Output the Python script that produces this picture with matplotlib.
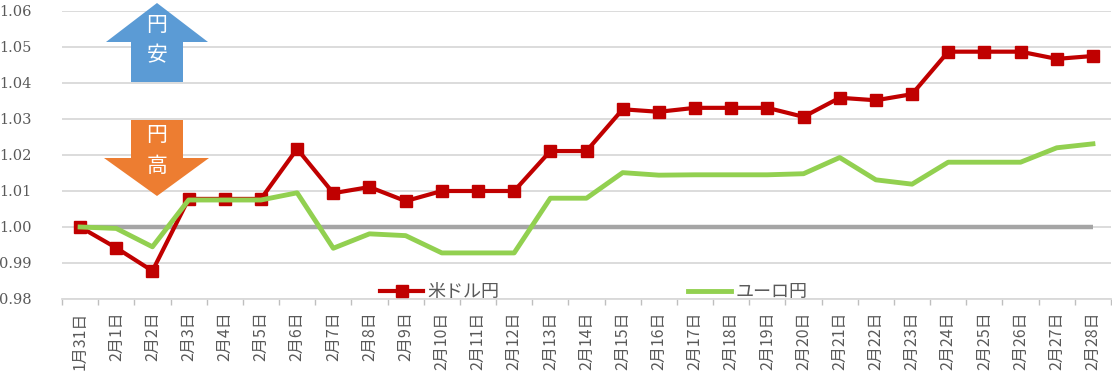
import matplotlib
matplotlib.use("Agg")
import matplotlib.pyplot as plt
import numpy as np
from matplotlib.patches import Polygon
from matplotlib.lines import Line2D

# ---- data ----
dates = ["1月31日"] + [f"2月{d}日" for d in range(1, 29)]
usd_jpy = [1.0000, 0.9942, 0.9878, 1.0078, 1.0078, 1.0078, 1.0217, 1.0094, 1.0111, 1.0072,
           1.0100, 1.0100, 1.0100, 1.0211, 1.0211, 1.0327, 1.0320, 1.0331, 1.0331, 1.0331,
           1.0306, 1.0359, 1.0352, 1.0369, 1.0487, 1.0487, 1.0487, 1.0467, 1.0475]
eur_jpy = [1.0000, 0.9996, 0.9945, 1.0075, 1.0075, 1.0075, 1.0095, 0.9941, 0.9981, 0.9976,
           0.9928, 0.9928, 0.9928, 1.0080, 1.0080, 1.0151, 1.0144, 1.0145, 1.0145, 1.0145,
           1.0148, 1.0193, 1.0131, 1.0119, 1.0180, 1.0180, 1.0180, 1.0220, 1.0231]
BASE = 1.00
series_names = ["米ドル円", "ユーロ円"]
y_ticks = [0.98, 0.99, 1.00, 1.01, 1.02, 1.03, 1.04, 1.05, 1.06]

plt.rcParams["font.family"] = ["DejaVu Serif"]

W, H = 1112, 386
fig = plt.figure(figsize=(W / 100, H / 100), dpi=100)
ax = fig.add_axes([62 / W, 1 - 299 / H, (1111 - 62) / W, (299 - 11) / H])

x = np.arange(len(dates))
TXT = "#595959"
GRID = "#D9D9D9"
JP = ["Noto Sans CJK JP", "DejaVu Sans"]

ax.set_xlim(-0.5, len(dates) - 0.5)
ax.set_ylim(y_ticks[0], y_ticks[-1])
ax.set_yticks(y_ticks)
ax.set_yticklabels([f"{v:.2f}" for v in y_ticks])
ax.tick_params(axis="y", length=0, pad=22, labelsize=10.5, labelcolor=TXT)
for t in ax.get_yticklabels():
    t.set_fontfamily("DejaVu Serif")
ax.yaxis.grid(True, color=GRID, lw=1.3)
ax.set_axisbelow(True)

ax.set_xticks(x)
ax.set_xticklabels(dates, rotation=90)
for t in ax.get_xticklabels():
    t.set_fontfamily(JP)
ax.tick_params(axis="x", which="major", length=0, pad=9, labelsize=11.5, labelcolor=TXT)
ax.set_xticks(np.arange(len(dates) + 1) - 0.5, minor=True)
ax.tick_params(axis="x", which="minor", length=4, color="#BFBFBF", width=1)

for s in ["left", "right", "top"]:
    ax.spines[s].set_visible(False)
ax.spines["bottom"].set_color(GRID)
ax.spines["bottom"].set_linewidth(1.3)

ax.plot(x[[0, -1]], [BASE, BASE], color="#A5A5A5", lw=3.2, solid_capstyle="butt", zorder=2)
ax.plot(x, usd_jpy, color="#C00000", lw=3, marker="s", ms=8, zorder=3, label=series_names[0])
ax.plot(x, eur_jpy, color="#92D050", lw=3.5, zorder=4, label=series_names[1])

# legend
h1 = Line2D([], [], color="#C00000", lw=3, marker="s", ms=8)
h2 = Line2D([], [], color="#92D050", lw=3.5)
leg = fig.legend([h1, h2], series_names, loc="center left",
                 bbox_to_anchor=(380 / W, 1 - 292 / H), ncol=2, frameon=False,
                 prop={"family": JP, "size": 13}, handlelength=2.4, handletextpad=0.25,
                 columnspacing=10.4, borderpad=0, borderaxespad=0)
for t in leg.get_texts():
    t.set_color(TXT)

# arrows (pixel coordinates of the reference)
def px(pts):
    return [(a / W, 1 - b / H) for a, b in pts]

up = px([(157, 3), (208, 42), (183, 42), (183, 82), (131, 82), (131, 42), (106, 42)])
down = px([(131, 120), (183, 120), (183, 158), (209, 158), (157, 196), (104, 158), (131, 158)])
fig.patches.append(Polygon(up, closed=True, transform=fig.transFigure, facecolor="#5B9BD5", edgecolor="none"))
fig.patches.append(Polygon(down, closed=True, transform=fig.transFigure, facecolor="#ED7D31", edgecolor="none"))
for ch, yy in [("円", 25), ("安", 55), ("円", 135), ("高", 166)]:
    fig.text(157 / W, 1 - yy / H, ch, color="white", ha="center", va="center",
             family=JP, fontsize=15)

fig.savefig("out.png", dpi=100)
